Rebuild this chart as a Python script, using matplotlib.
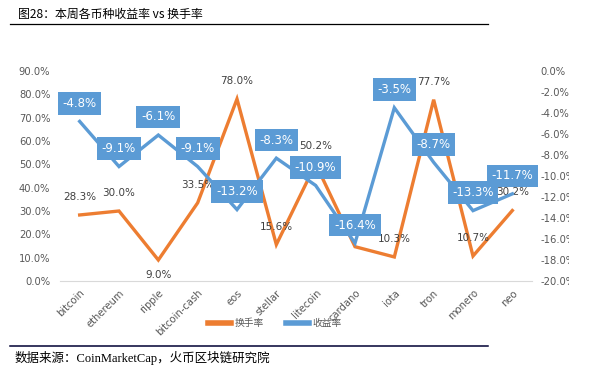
import matplotlib
matplotlib.use("Agg")
import matplotlib.pyplot as plt
from matplotlib.lines import Line2D
from matplotlib.ticker import FuncFormatter

plt.rcParams['font.family'] = ['Noto Sans CJK SC', 'DejaVu Sans']

# data
coins = ['bitcoin', 'ethereum', 'ripple', 'bitcoin-cash', 'eos', 'stellar',
         'litecoin', 'cardano', 'iota', 'tron', 'monero', 'neo']
turnover = [28.3, 30.0, 9.0, 33.5, 78.0, 15.6, 50.2, 14.7, 10.3, 77.7, 10.7, 30.2]
returns = [-4.8, -9.1, -6.1, -9.1, -13.2, -8.3, -10.9, -16.4, -3.5, -8.7, -13.3, -11.7]

orange = '#ED7D31'
blue = '#5B9BD5'
grey = '#595959'

fig = plt.figure(figsize=(6.1, 3.77), dpi=100)
ax = fig.add_axes([60 / 610, 96 / 377, 472 / 610, 210 / 377])
ax2 = ax.twinx()

x = list(range(len(coins)))

# turnover (left axis)
ax.plot(x, turnover, color=orange, lw=2.4, solid_joinstyle='miter', zorder=2)
for i, v in enumerate(turnover):
    if coins[i] == 'cardano':
        # hidden under the return label box in the original
        continue
    off = -11 if coins[i] == 'ripple' else 13
    ax.annotate('%.1f%%' % v, (i, v), xytext=(0, off), textcoords='offset points',
                ha='center', va='center', fontsize=7.5, color='#404040',
                family=['DejaVu Sans'], clip_on=False)

# returns (right axis)
ax2.plot(x, returns, color=blue, lw=2.4, solid_joinstyle='miter', zorder=2)
for i, v in enumerate(returns):
    ax2.annotate('%.1f%%' % v, (i, v), xytext=(0, 13), textcoords='offset points',
                 ha='center', va='center', fontsize=8.5, color='white',
                 family=['DejaVu Sans'], clip_on=False, zorder=5,
                 bbox=dict(boxstyle='square,pad=0.4', fc=blue, ec='none'))

ax.set_xlim(-0.5, len(coins) - 0.5)
ax.set_ylim(0, 90)
ax.set_yticks(range(0, 91, 10))
ax2.set_ylim(-20, 0)
ax2.set_yticks(range(-20, 1, 2))
pct = FuncFormatter(lambda v, p: '%.1f%%' % v)
ax.yaxis.set_major_formatter(pct)
ax2.yaxis.set_major_formatter(pct)

ax.set_xticks(x)
ax.set_xticklabels(coins, rotation=45, ha='right', rotation_mode='anchor',
                   fontsize=6, color=grey, family=['DejaVu Sans'])
for a in (ax, ax2):
    a.tick_params(length=0, colors=grey, labelsize=7.2)
    for s in a.spines.values():
        s.set_visible(False)
ax.tick_params(axis='y', pad=7)
ax2.tick_params(axis='y', pad=6)
ax.tick_params(axis='x', pad=5)
ax.spines['bottom'].set_visible(True)
ax.spines['bottom'].set_color('#D9D9D9')
for t in ax.get_yticklabels() + ax2.get_yticklabels():
    t.set_family(['DejaVu Sans'])

# right labels are clipped by the chart frame
fig.add_artist(plt.Rectangle((569 / 610, 60 / 377), 41 / 610, 260 / 377,
                             transform=fig.transFigure, fc='white', ec='none', zorder=10))

# legend
handles = [Line2D([], [], color=orange, lw=4), Line2D([], [], color=blue, lw=4)]
fig.legend(handles, ['换手率', '收益率'], loc='center', bbox_to_anchor=(275 / 610, 1 - 323 / 377),
           ncol=2, frameon=False, fontsize=7, handlelength=2.4, handletextpad=0.4,
           columnspacing=2.2, labelcolor=grey)

# title, rules and source
fig.text(18 / 610, 1 - 14 / 377, '图28：本周各币种收益率 vs 换手率', fontsize=8.6,
         va='center', ha='left', color='black')
fig.add_artist(Line2D([10 / 610, 488 / 610], [1 - 24 / 377] * 2, color='black', lw=0.9))
fig.add_artist(Line2D([10 / 610, 488 / 610], [1 - 346 / 377] * 2, color='#000033', lw=1.1))
fig.text(15 / 610, 1 - 358 / 377, '数据来源：CoinMarketCap，火币区块链研究院', fontsize=9,
         va='center', ha='left', color='black', family=['Liberation Serif', 'Noto Sans CJK SC'])

fig.savefig('out.png', dpi=100)
